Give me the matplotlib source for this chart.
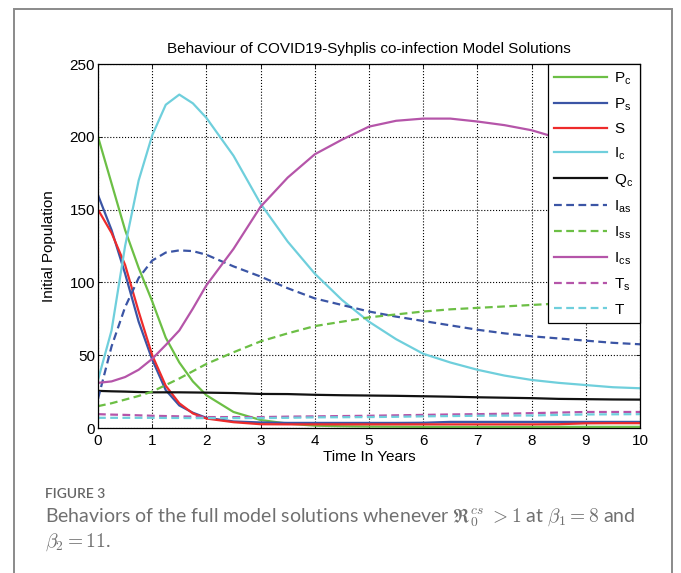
import numpy as np
import matplotlib
matplotlib.use("Agg")
import matplotlib.pyplot as plt
from matplotlib.patches import FancyBboxPatch

# time grid (years) and model solutions
t = [0, 0.25, 0.5, 0.75, 1, 1.25, 1.5, 1.75, 2, 2.5, 3, 3.5, 4, 4.5, 5,
     5.5, 6, 6.5, 7, 7.5, 8, 8.5, 9, 9.5, 10]

Pc = [200, 168, 136, 110, 87, 62, 45, 32, 22.5, 11, 5.5, 3, 1.6, 1.2, 1,
      0.9, 0.8, 0.8, 0.8, 0.8, 0.8, 0.8, 0.8, 0.8, 0.8]
Ps = [160, 136, 106, 73, 47, 26, 15.5, 10.5, 7, 4.5, 3.8, 3.5, 3.5, 3.5, 3.5,
      3.5, 3.6, 4.2, 4.2, 4.2, 4.2, 4.2, 4.2, 4.2, 4.2]
S = [150, 134, 112, 80, 50, 29, 17, 10, 6.5, 4, 2.6, 2.5, 2.5, 2.5, 2.5,
     2.5, 2.5, 2.5, 2.5, 2.5, 2.5, 2.6, 3.2, 3.3, 3.3]
Ic = [33, 67, 125, 170, 201, 222, 229, 223, 213, 187, 154, 128, 106, 88, 73,
      61, 51, 45, 40, 36, 33, 31, 29.5, 28, 27.3]
Qc = [25.5, 25.2, 25, 24.7, 24.5, 24.5, 24.5, 24.4, 24.3, 24, 23.4, 23.3, 22.8,
      22.5, 22.3, 22.1, 21.8, 21.5, 21.1, 20.8, 20.5, 20, 19.8, 19.6, 19.5]
Ias = [20, 56, 83, 103, 115, 120.5, 122, 121.5, 119, 111, 104, 96, 89, 84.5,
       80, 76.5, 73.5, 70.5, 67.5, 65, 63, 61.5, 60, 58.5, 57.5]
Iss = [15, 17, 19.5, 22, 25, 29.5, 34, 39, 44, 52, 59.5, 65, 70, 73, 76,
       78, 80, 81.5, 82.5, 83.5, 84.5, 85.5, 86, 86.5, 87]
Ics = [31, 32, 35, 40, 47.5, 57, 67, 82, 98, 123, 152, 172, 188, 198, 207,
       211, 212.5, 212.5, 210.5, 208, 204.5, 199, 194, 189, 184]
Ts = [9.5, 9.2, 9, 8.7, 8.4, 8.2, 8, 7.8, 7.5, 7.5, 7.5, 7.8, 8, 8.2, 8.4,
      8.7, 9, 9.3, 9.5, 9.8, 10.2, 10.6, 11, 11, 11]
T = [7, 7, 7, 7, 7, 6.9, 6.9, 6.8, 6.8, 6.8, 6.8, 7, 7.3, 7.4, 7.5,
     7.7, 8, 8.2, 8.4, 8.5, 8.6, 9, 9.3, 9.4, 9.5]

series = [
    (Pc, r"P$_\mathregular{c}$", "#6cbf45", "-"),
    (Ps, r"P$_\mathregular{s}$", "#3b55a5", "-"),
    (S, "S", "#ee2b2b", "-"),
    (Ic, r"I$_\mathregular{c}$", "#6fcfdc", "-"),
    (Qc, r"Q$_\mathregular{c}$", "#111111", "-"),
    (Ias, r"I$_\mathregular{as}$", "#3b55a5", "--"),
    (Iss, r"I$_\mathregular{ss}$", "#6cbf45", "--"),
    (Ics, r"I$_\mathregular{cs}$", "#b555a9", "-"),
    (Ts, r"T$_\mathregular{s}$", "#b555a9", "--"),
    (T, "T", "#6fcfdc", "--"),
]

plt.rcParams["font.family"] = ["Liberation Sans", "DejaVu Sans"]
plt.rcParams["mathtext.fontset"] = "cm"

fig = plt.figure(figsize=(6.81, 5.73), dpi=100)

# outer frame of the figure panel
frame = FancyBboxPatch((14 / 681, -0.05), 658 / 681, 1 - 9 / 573 + 0.05,
                       boxstyle="square,pad=0", transform=fig.transFigure,
                       facecolor="none", edgecolor="#8a8a8a", linewidth=1.4)
fig.patches.append(frame)

ax = fig.add_axes([98 / 681, 1 - 428 / 573, 542 / 681, 364 / 573])
for y, label, color, ls in series:
    ax.plot(t, y, color=color, linestyle=ls, linewidth=1.6, label=label,
            dashes=(3.5, 2) if ls == "--" else (None, None))

ax.set_xlim(0, 10)
ax.set_ylim(0, 250)
ax.set_xticks(range(0, 11))
ax.set_yticks(range(0, 251, 50))
ax.grid(True, color="black", linestyle=":", linewidth=0.8)
ax.tick_params(direction="in", labelsize=11, length=3, width=0.6, pad=2,
               top=True, right=True)
ax.tick_params(axis="x", pad=4)
for sp in ax.spines.values():
    sp.set_linewidth(0.9)

ax.set_title("Behaviour of COVID19-Syhplis co-infection Model Solutions",
             fontsize=11, pad=8)
ax.set_xlabel("Time In Years", fontsize=11, labelpad=2)
ax.set_ylabel("Initial Population", fontsize=11, labelpad=10)

leg = ax.legend(loc="upper right", borderaxespad=0, fontsize=11,
                handlelength=3.5, labelspacing=0.62, fancybox=False,
                framealpha=1, edgecolor="black", borderpad=0.4,
                handletextpad=0.45)
leg.get_frame().set_linewidth(0.9)
leg.set_zorder(5)

# caption
fig.text(45 / 681, 1 - 494 / 573, "FIGURE 3", fontsize=10, family="Lato",
         weight="semibold", color="#666666", va="center")
fig.text(45 / 681, 1 - 518 / 573,
         r"Behaviors of the full model solutions whenever $\mathfrak{R}_0^{cs}$ $> 1$ at "
         r"$\beta_1 = 8$ and",
         fontsize=14, family="Lato", color="#707070", va="center")
fig.text(45 / 681, 1 - 542 / 573, r"$\beta_2 = 11$.", fontsize=14, family="Lato",
         color="#707070", va="center")

fig.savefig("out.png", dpi=100)
